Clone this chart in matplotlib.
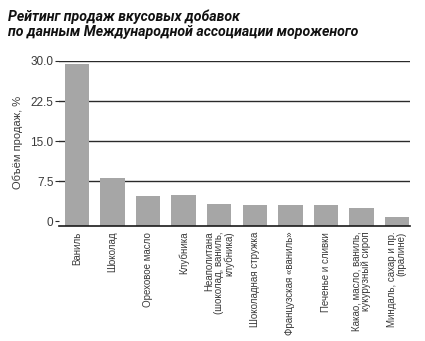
import numpy as np
import matplotlib
matplotlib.use('Agg')
import matplotlib.pyplot as plt

# === Данные ===
flavours = [
    "Ваниль",
    "Шоколад",
    "Ореховое масло",
    "Клубника",
    "Неаполитана\n(шоколад, ваниль,\nклубника)",
    "Шоколадная стружка",
    "Французская «ваниль»",
    "Печенье и сливки",
    "Какао, масло, ваниль,\nкукурузный сироп",
    "Миндаль, сахар и пр.\n(пралине)",
]
share = [29.5, 8.1, 4.8, 4.9, 3.2, 3.1, 3.0, 3.0, 2.4, 0.8]
yticks = [0, 7.5, 15.0, 22.5, 30.0]
ytick_labels = ["0", "7.5", "15.0", "22.5", "30.0"]

bar_color = "#a6a6a6"
text_color = "#3a3a3a"
y_bottom = -0.95  # базовая линия чуть ниже нуля

fig = plt.figure(figsize=(4.25, 3.41), dpi=100)
ax = fig.add_axes([0.1388, 0.3364, 0.826, 0.4857])

x = np.arange(len(flavours))
vals = np.array(share)
ax.bar(x, vals - y_bottom, bottom=y_bottom, width=0.69, color=bar_color, zorder=2)

ax.set_xlim(-0.51, len(flavours) - 1 + 0.37)
ax.set_ylim(y_bottom, 30.05)

# сетка
for yv in yticks[1:]:
    ax.axhline(yv, color="#2a2a2a", lw=1.0, zorder=1)

ax.set_yticks(yticks)
ax.set_yticklabels(ytick_labels, fontsize=8.5, color=text_color, family="Liberation Sans")
ax.tick_params(axis="y", length=3, width=0.8, color="#2a2a2a", pad=1)

ax.set_xticks(x)
ax.set_xticklabels(flavours, rotation=90, fontsize=7, color=text_color,
                   family="Liberation Sans", va="top", ha="center",
                   multialignment="right", linespacing=0.95)
ax.tick_params(axis="x", length=0, pad=4)

for s in ["left", "right", "top"]:
    ax.spines[s].set_visible(False)
ax.spines["bottom"].set_color("#1a1a1a")
ax.spines["bottom"].set_linewidth(1.2)

fig.text(18 / 425, 1 - 142 / 341, "Объём продаж, %", rotation=90, fontsize=8,
         color=text_color, family="Liberation Sans", ha="center", va="center")

fig.text(8 / 425, 1 - 9 / 341,
         "Рейтинг продаж вкусовых добавок\nпо данным Международной ассоциации мороженого",
         fontsize=10.2, fontweight="bold", fontstyle="italic", family="Roboto",
         color="#111111", ha="left", va="top", linespacing=1.15)

fig.savefig("out.png", dpi=100)
